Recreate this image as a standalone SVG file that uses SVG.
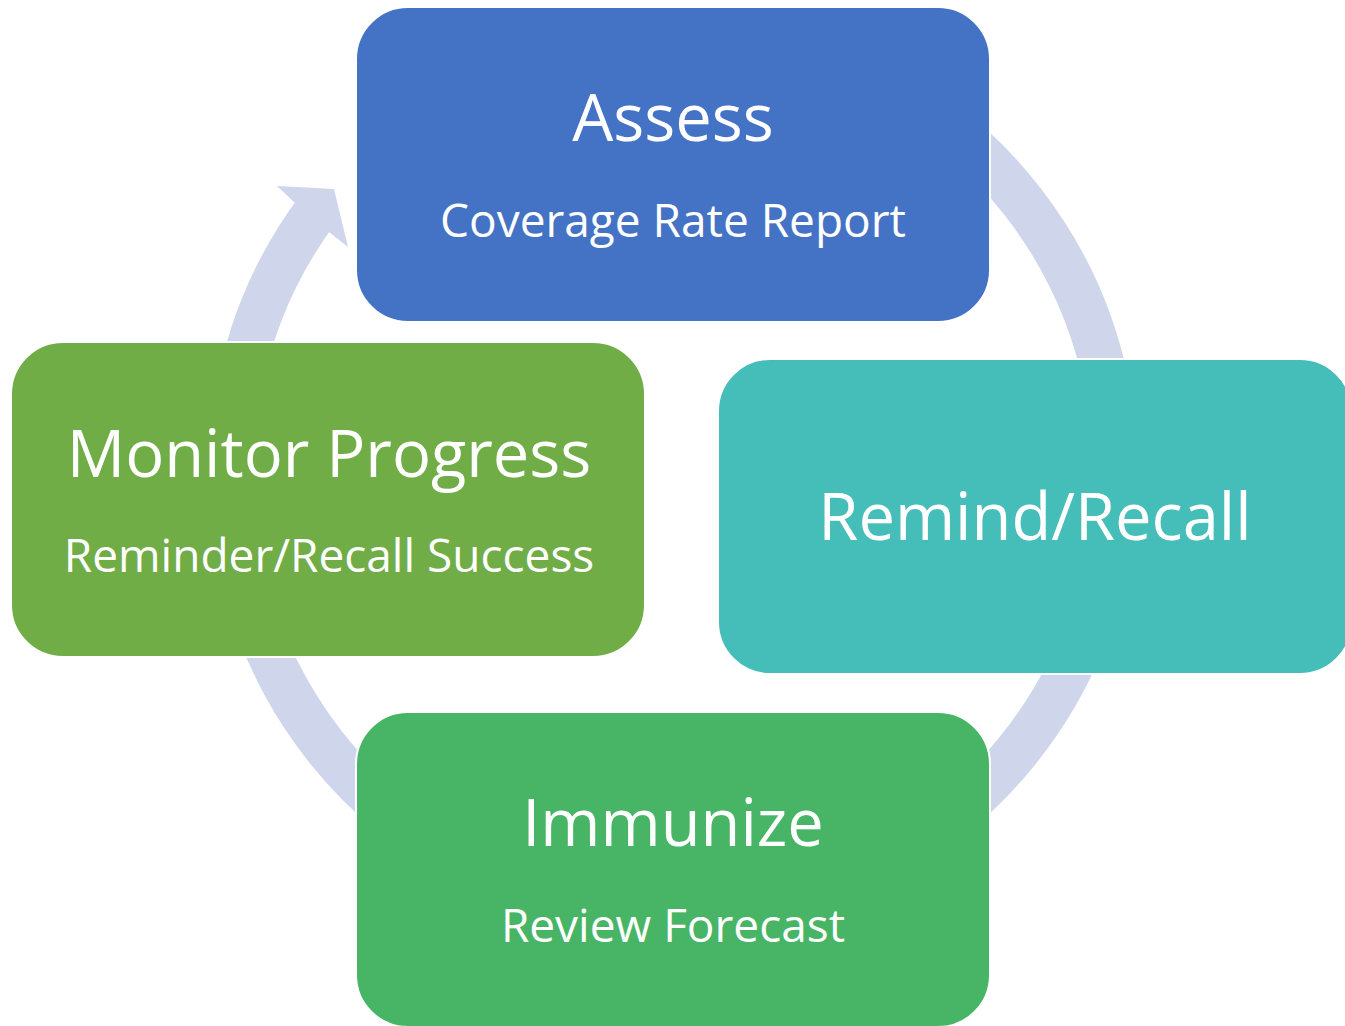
<svg xmlns="http://www.w3.org/2000/svg" width="1345" height="1026" viewBox="0 0 1345 1026">
  <style>
    .box { stroke: #ffffff; stroke-width: 2; }
    .title { font-family: "Open Sans", "Liberation Sans", sans-serif; font-size: 65px; fill: #ffffff; text-anchor: middle; }
    .sub { font-family: "Open Sans", "Liberation Sans", sans-serif; font-size: 46px; fill: #ffffff; text-anchor: middle; }
    .band { fill: none; stroke: #CFD5EA; stroke-width: 45; }
  </style>
  <rect width="1345" height="1026" fill="#ffffff"/>
  <g id="connectors">
    <path class="band" d="M 419.2 110.5 A 442.5 442.5 0 1 1 317.3 209.8"/>
    <polygon points="294,202 277,186 334,189 348,247 329,232" fill="#CFD5EA"/>
  </g>
  <g id="node-assess">
    <rect class="box" x="356" y="7" width="634" height="315" rx="52" ry="52" fill="#4472C4"/>
    <text class="title" x="673" y="141">Assess</text>
    <text class="sub" x="673" y="237">Coverage Rate Report</text>
  </g>
  <g id="node-remind">
    <rect class="box" x="718" y="359" width="634" height="315" rx="52" ry="52" fill="#45BDB9"/>
    <text class="title" x="1035" y="540">Remind/Recall</text>
  </g>
  <g id="node-immunize">
    <rect class="box" x="356" y="712" width="634" height="315" rx="52" ry="52" fill="#47B565"/>
    <text class="title" x="673" y="846">Immunize</text>
    <text class="sub" x="673" y="942">Review Forecast</text>
  </g>
  <g id="node-monitor">
    <rect class="box" x="11" y="342" width="634" height="315" rx="52" ry="52" fill="#70AD47"/>
    <text class="title" x="329" y="477">Monitor Progress</text>
    <text class="sub" x="329" y="572">Reminder/Recall Success</text>
  </g>
</svg>
